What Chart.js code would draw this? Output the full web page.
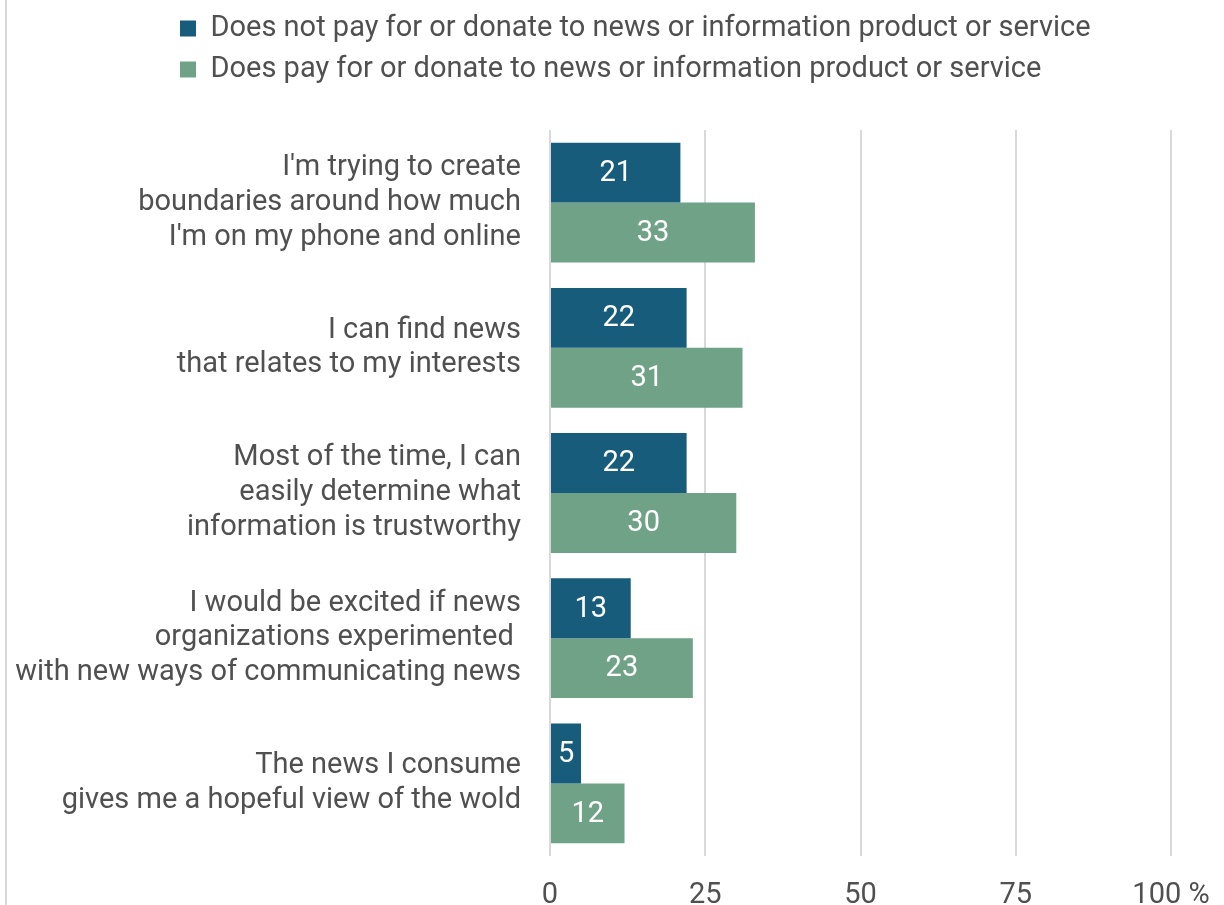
<!DOCTYPE html>
<html>
<head>
<meta charset="utf-8">
<script src="https://cdn.jsdelivr.net/npm/chart.js@4/dist/chart.umd.min.js"></script>
<style>
  body { margin: 0; background: #fff; }
  canvas { display: block; }
</style>
</head>
<body>
<canvas id="myChart" width="1224" height="905"></canvas>
<script>
const categories = [
  ["I'm trying to create", "boundaries around how much", "I'm on my phone and online"],
  ["I can find news", "that relates to my interests"],
  ["Most of the time, I can", "easily determine what", "information is trustworthy"],
  ["I would be excited if news", "organizations experimented ", "with new ways of communicating news"],
  ["The news I consume", "gives me a hopeful view of the wold"]
];
const seriesNames = [
  'Does not pay for or donate to news or information product or service',
  'Does pay for or donate to news or information product or service'
];
const notPaying = [21, 22, 22, 13, 5];
const paying = [33, 31, 30, 23, 12];
const tickValues = [0, 25, 50, 75, 100];

const textColor = '#505050';
const gridColor = '#d9d9d9';
const fontSize = 29;

// legend sits above the bars, lined up with its own left edge
const legendShift = { x: 164, y: -36 };

// white value labels in the middle of each bar
const barValues = {
  id: 'barValues',
  afterDatasetsDraw(chart) {
    const c = chart.ctx;
    c.save();
    c.fillStyle = '#ffffff';
    c.font = fontSize + 'px Roboto';
    c.textAlign = 'center';
    c.textBaseline = 'middle';
    chart.data.datasets.forEach((ds, i) => {
      chart.getDatasetMeta(i).data.forEach((bar, j) => {
        c.fillText(String(ds.data[j]), (bar.base + bar.x) / 2, bar.y + 1);
      });
    });
    c.restore();
  }
};

// thin grey frame line on the left edge
const leftEdge = {
  id: 'leftEdge',
  beforeDraw(chart) {
    const c = chart.ctx;
    c.save();
    c.strokeStyle = gridColor;
    c.lineWidth = 2;
    c.beginPath();
    c.moveTo(6, 0);
    c.lineTo(6, chart.height);
    c.stroke();
    c.restore();
  }
};

const moveLegend = {
  id: 'moveLegend',
  afterLayout(chart) {
    const lg = chart.legend;
    lg.left += legendShift.x;
    lg.right += legendShift.x;
    lg.top += legendShift.y;
    lg.bottom += legendShift.y;
  }
};

const ctx = document.getElementById('myChart').getContext('2d');

new Chart(ctx, {
  type: 'bar',
  data: {
    labels: categories,
    datasets: [{
      label: seriesNames[0],
      data: notPaying,
      backgroundColor: '#175c7b',
      barPercentage: 1,
      categoryPercentage: 0.825
    }, {
      label: seriesNames[1],
      data: paying,
      backgroundColor: '#6fa287',
      barPercentage: 1,
      categoryPercentage: 0.825
    }]
  },
  options: {
    indexAxis: 'y',
    responsive: false,
    animation: false,
    layout: {
      padding: { left: 4, right: 53, top: 38, bottom: 0 }
    },
    plugins: {
      legend: {
        position: 'top',
        align: 'start',
        labels: {
          boxWidth: 16,
          boxHeight: 16,
          padding: 12,
          color: textColor,
          font: { family: 'Roboto', size: fontSize }
        }
      },
      tooltip: { enabled: false }
    },
    scales: {
      x: {
        min: 0,
        max: 100,
        afterBuildTicks(scale) {
          scale.ticks = tickValues.map(v => ({ value: v }));
        },
        // tick labels run off the bottom edge a little
        afterFit(scale) {
          scale.height = 49;
          scale.paddingLeft = 0;
          scale.paddingRight = 0;
        },
        ticks: {
          padding: 22,
          color: textColor,
          font: { family: 'Roboto', size: fontSize },
          callback: v => v === 100 ? '100 %' : String(v)
        },
        grid: { color: gridColor, lineWidth: 2, drawTicks: false },
        border: { display: false }
      },
      y: {
        afterFit(scale) {
          scale.width = 546;
          // multi-line labels should not push the plot area inwards
          scale.paddingTop = 0;
          scale.paddingBottom = 0;
        },
        ticks: {
          padding: 21,
          color: textColor,
          font: { family: 'Roboto', size: fontSize, lineHeight: 1.2 }
        },
        grid: { display: false },
        border: { display: false }
      }
    }
  },
  plugins: [barValues, leftEdge, moveLegend]
});
</script>
</body>
</html>
